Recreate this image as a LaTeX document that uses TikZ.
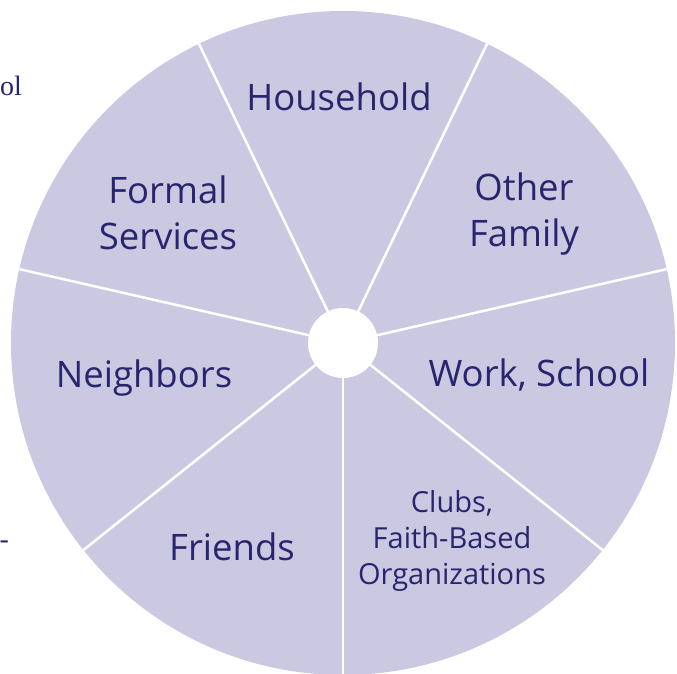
\documentclass[tikz,border=0pt]{standalone}
\usepackage{fontspec}
\newfontfamily\wheelfont{Open Sans}
\newfontfamily\pagefont{Liberation Serif}
\usetikzlibrary{positioning}
\definecolor{wheelfill}{HTML}{CBC9E1}
\definecolor{wheeltext}{HTML}{28256F}
\begin{document}
\begin{tikzpicture}[x=1pt,y=1pt]
    \tikzstyle{every node}=[inner sep=0,outer sep=0]
    \tikzstyle{sector}=[text=wheeltext,align=center,font=\wheelfont\fontsize{36.5}{46}\selectfont]
    \tikzstyle{small sector}=[sector,font=\wheelfont\fontsize{29}{36}\selectfont]
    \tikzstyle{spoke}=[draw=white,line width=2.5]
    \tikzstyle{cut}=[text=wheeltext,font=\pagefont\fontsize{28}{34}\selectfont]
    {
        \useasboundingbox (-343,-330) rectangle (334,343);

        % the wheel and its seven spokes
        \node[circle,fill=wheelfill,minimum size=664] (wheel) at (0,0) {};
        \foreach \k [evaluate=\k as \ang using -90+\k*360/7] in {0,...,6} {
            \coordinate (rim\k) at (\ang:332);
            \draw[spoke] (wheel.center) -- (rim\k);
        }
        \node[circle,fill=white,minimum size=70] (hub) at (0,0) {};

        % sector labels
        \node[sector] (household) at (-4,246) {Household};
        \node[sector] (family) at (181,129) {Other\\Family};
        \node[sector] (work) at (196,-32) {Work, School};
        \node[small sector] (clubs) at (109,-198) {Clubs,\\Faith-Based\\Organizations};
        \node[sector] (friends) at (-111,-204) {Friends};
        \node[sector] (neighbors) at (-199,-35) {Neighbors};
        \node[sector] (formal) at (-175,130) {Formal\\Services};

        % bits of page text at the left edge
        \node[cut,anchor=base east] (ol) at (-321,248) {ol};
        \node[cut,anchor=base east] (dash) at (-334,-205) {-};
    }
\end{tikzpicture}
\end{document}
